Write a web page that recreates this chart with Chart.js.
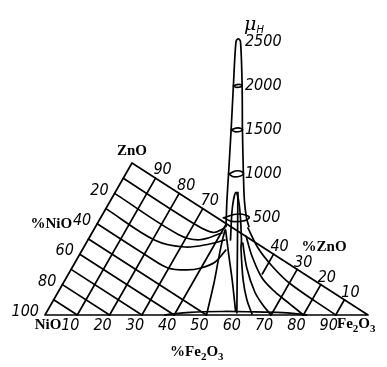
<!DOCTYPE html>
<html>
<head>
<meta charset="utf-8">
<script src="https://cdn.jsdelivr.net/npm/chart.js@4"></script>
<style>
  html, body { margin: 0; padding: 0; background: #fff; }
  #wrap { width: 387px; height: 367px; }
</style>
</head>
<body>
<div id="wrap"><canvas id="myChart" width="387" height="367"></canvas></div>
<script>
// Zusammensetzung in % (Fe2O3, ZnO), NiO = Rest; Hoehe = Anfangspermeabilitaet mu_H
const feTicks = [10, 20, 30, 40, 50, 60, 70, 80, 90];   // %Fe2O3 an der Basis
const niTicks = [20, 40, 60, 80, 100];                  // %NiO an der linken Kante
const znTopTicks = [90, 80, 70];                        // %ZnO obere Kante
const znRightTicks = [40, 30, 20, 10];                  // %ZnO rechte Kante
const muTicks = [500, 1000, 1500, 2000, 2500];          // mu_H Achse

// ebene Gitterlinien (mu = 0)
const feGridFull = [10, 20, 30, 40, 70, 80, 90];
const niGridFull = [50, 60, 70, 80, 90];
const fe60Zn = [27, 40];

// Linien konstanten NiO-Gehalts links vom Maximum (Fe2O3-Wert, Hoehe)
const ni10LeftFe = [0, 30, 38, 43];
const ni10LeftMu = [0, 0, 40, 177];
const ni20LeftFe = [0, 27, 36, 45.5];
const ni20LeftMu = [0, 0, 95, 336];
const ni30LeftFe = [0, 20.8, 33.5, 44, 50.4];
const ni30LeftMu = [0, 0, 142, 358, 514];
const ni40LeftFe = [0, 22, 30, 38, 44, 50, 54.5];
const ni40LeftMu = [0, 0, 16, 132, 258, 430, 643];

// ... rechts vom Maximum
const ni10RightFe = [52.8, 57.1, 63, 70.6, 90];
const ni10RightMu = [347, 193, 91, 23, 0];
const ni20RightFe = [55.7, 58.2, 62.5, 68, 74.3, 80];
const ni20RightMu = [478, 294, 118, 55, 26, 0];
const ni30RightFe = [58, 59.7, 63.1, 66.5, 70];
const ni30RightMu = [611, 356, 142, 53, 0];

// Linie 50 % Fe2O3 (ZnO-Wert, Hoehe)
const fe50Zn = [0, 8.6, 13.2, 17.8, 21.3];
const fe50Mu = [0, 215, 375, 523, 598];

// Spitze bei 35 % ZnO
const spikeZn = 35;
const spikeMu = [400, 500, 700, 1000, 1500, 2000, 2500];
const spikeLeftFe = [46.6, 46.7, 46.9, 47.4, 48.2, 48.9, 49.7];
const spikeRightFe = [53.7, 52.95, 52.3, 52.0, 51.7, 51.6, 51.1];
const spikeTop = [50.4, 2535];

// Hoehenringe an der Spitze
const ringMu = [500, 1000, 1500, 2000];
const ringFe = [49.8, 49.7, 49.95, 50.25];
const ringHalfFe = [4.0, 2.3, 1.75, 1.35];
const ringHalfZn = [2.5, 2, 1.3, 1];

// innerer Bogen und Grat zur Basis
const archFe = [48.0, 48.6, 49.7, 50.8, 51.4, 52.6, 57.3, 60.9, 64.1];
const archZn = [35, 35, 35, 35, 35, 30, 15, 6, 0];
const archMu = [248, 620, 790, 620, 248, 243, 139, 67, 11];
const frontFe = [50.3, 59.4];
const frontZn = [35, 0];
const frontMu = [790, 25];
const footFe = [46.5, 50.6, 54.75, 59];
const footZn = [35, 23.4, 11.9, 0];
const footMu = [361, 277, 192, 45];
const ridgeFe = [37, 45, 55, 65, 75, 81];
const ridgeMu = [0, 30, 40, 35, 25, 0];

// Schraegprojektion: (Fe2O3, ZnO, mu) -> Diagrammkoordinaten
function proj(fe, zn, mu) {
    return { x: fe + 0.2693 * zn, y: 0.4706 * zn + 0.02724 * (mu || 0) };
}

function line(points, tension) {
    return {
        data: points.map(p => proj(p[0], p[1], p[2])),
        showLine: true,
        borderColor: '#000',
        borderWidth: 1.7,
        pointRadius: 0,
        tension: tension || 0,
        fill: false
    };
}

const datasets = [];
// Dreieck
datasets.push(line([[0, 0], [100, 0], [0, 100], [0, 0]]));
feGridFull.forEach(fe => datasets.push(line([[fe, 0], [fe, 100 - fe]])));
niGridFull.forEach(ni => datasets.push(line([[0, 100 - ni], [100 - ni, 0]])));
datasets.push(line(fe60Zn.map(z => [60, z])));

function niCurve(ni, feArr, muArr) {
    return line(feArr.map((fe, i) => [fe, 100 - ni - fe, muArr[i]]), 0.35);
}
datasets.push(niCurve(10, ni10LeftFe, ni10LeftMu));
datasets.push(niCurve(20, ni20LeftFe, ni20LeftMu));
datasets.push(niCurve(30, ni30LeftFe, ni30LeftMu));
datasets.push(niCurve(40, ni40LeftFe, ni40LeftMu));
datasets.push(niCurve(10, ni10RightFe, ni10RightMu));
datasets.push(niCurve(20, ni20RightFe, ni20RightMu));
datasets.push(niCurve(30, ni30RightFe, ni30RightMu));
datasets.push(line(fe50Zn.map((z, i) => [50, z, fe50Mu[i]]), 0.3));

// Spitze
const spikePts = [];
spikeMu.forEach((m, i) => spikePts.push([spikeLeftFe[i], spikeZn, m]));
spikePts.push([spikeTop[0], spikeZn, spikeTop[1]]);
for (let i = spikeMu.length - 1; i >= 0; i--) spikePts.push([spikeRightFe[i], spikeZn, spikeMu[i]]);
datasets.push(line(spikePts, 0.3));

ringMu.forEach((m, i) => {
    const c = ringFe[i], r = ringHalfFe[i], d = ringHalfZn[i];
    datasets.push(line([[c - r, spikeZn, m], [c, spikeZn - d, m], [c + r, spikeZn, m],
        [c, spikeZn + d, m], [c - r, spikeZn, m]], 0.5));
});

datasets.push(line(archFe.map((fe, i) => [fe, archZn[i], archMu[i]]), 0.35));
datasets.push(line(frontFe.map((fe, i) => [fe, frontZn[i], frontMu[i]])));
datasets.push(line(footFe.map((fe, i) => [fe, footZn[i], footMu[i]]), 0.3));
datasets.push(line(ridgeFe.map((fe, i) => [fe, 0, ridgeMu[i]]), 0.4));

const numFont = 'italic 16px "Liberation Sans Narrow", "DejaVu Sans Condensed", sans-serif';
const chemFont = 'bold 15px "Liberation Serif", "DejaVu Serif", serif';
const subFont = 'bold 11px "Liberation Serif", "DejaVu Serif", serif';

function drawChem(c, parts, x, y, align) {
    let w = 0;
    parts.forEach(p => { c.font = p[1] ? subFont : chemFont; w += c.measureText(p[0]).width; });
    let cx = align === 'center' ? x - w / 2 : (align === 'right' ? x - w : x);
    c.textAlign = 'left';
    parts.forEach(p => {
        c.font = p[1] ? subFont : chemFont;
        c.fillText(p[0], cx, p[1] ? y + 5 : y);
        cx += c.measureText(p[0]).width;
    });
}

const labelPlugin = {
    id: 'labels',
    afterDraw(chart) {
        const c = chart.ctx, xs = chart.scales.x, ys = chart.scales.y;
        const at = (fe, zn, mu) => {
            const p = proj(fe, zn, mu);
            return [xs.getPixelForValue(p.x), ys.getPixelForValue(p.y)];
        };
        c.save();
        c.fillStyle = '#000';
        c.textBaseline = 'middle';

        c.font = numFont;
        c.textAlign = 'center';
        feTicks.forEach(v => { const [x, y] = at(v, 0); c.fillText(String(v), x - 7, y + 11); });
        znTopTicks.forEach(v => { const [x, y] = at(100 - v, v); c.fillText(String(v), x + 7, y - 8); });
        znRightTicks.forEach(v => { const [x, y] = at(100 - v, v); c.fillText(String(v), x + 6, y - 7); });
        c.textAlign = 'right';
        niTicks.forEach(v => { const [x, y] = at(0, 100 - v); c.fillText(String(v), x - 6, y - 3); });
        c.textAlign = 'left';
        muTicks.forEach(m => {
            const [x, y] = at(50.3, spikeZn, m);
            c.fillText(String(m), x + (m === 500 ? 15 : 7), y);
        });

        // Achsenbeschriftungen
        let [x, y] = at(0, 100);
        drawChem(c, [['ZnO', false]], x, y - 12, 'center');
        [x, y] = at(0, 0);
        drawChem(c, [['NiO', false]], x + 3, y + 10, 'center');
        [x, y] = at(100, 0);
        drawChem(c, [['Fe', false], ['2', true], ['O', false], ['3', true]], x - 31, y + 9, 'left');
        [x, y] = at(47, 0);
        drawChem(c, [['%Fe', false], ['2', true], ['O', false], ['3', true]], x, y + 37, 'center');
        [x, y] = at(0, 60);
        drawChem(c, [['%NiO', false]], x - 25, y, 'right');
        [x, y] = at(60, 40);
        drawChem(c, [['%ZnO', false]], x + 28, y - 7, 'left');

        // mu_H
        [x, y] = at(spikeTop[0], spikeZn, spikeTop[1]);
        c.font = 'italic 19px "DejaVu Serif", serif';
        c.textAlign = 'center';
        c.fillText('\u03bc', x + 12, y - 14);
        c.font = 'italic 10px "DejaVu Sans", sans-serif';
        c.fillText('H', x + 22, y - 8);
        c.restore();
    }
};

const myChart = new Chart(document.getElementById('myChart').getContext('2d'), {
    type: 'scatter',
    data: { datasets: datasets },
    options: {
        responsive: false,
        animation: false,
        layout: { padding: 0 },
        plugins: { legend: { display: false }, tooltip: { enabled: false } },
        elements: { line: { borderCapStyle: 'round', borderJoinStyle: 'round' } },
        scales: {
            x: { type: 'linear', display: false, min: -13.93, max: 105.88 },
            y: { type: 'linear', display: false, min: -16.1, max: 97.52 }
        }
    },
    plugins: [labelPlugin]
});
</script>
</body>
</html>
